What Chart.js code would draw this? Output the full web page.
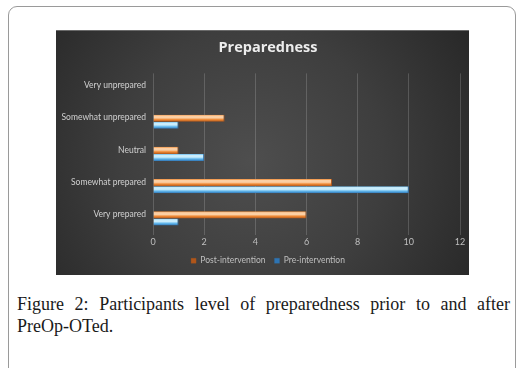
<!DOCTYPE html>
<html>
<head>
<meta charset="utf-8">
<script src="https://cdn.jsdelivr.net/npm/chart.js@4"></script>
<style>
  body { margin: 0; background: #fff; width: 530px; height: 368px; overflow: hidden; position: relative; }
  .frame { position: absolute; left: 8px; top: 6px; width: 508px; height: 372px; border: 1px solid #9a9a9a; border-radius: 9px; box-sizing: border-box; }
  .plot { position: absolute; left: 56px; top: 30px; width: 413px; height: 245px; border-top: 1px solid #6a6a6a; box-sizing: border-box; }
  .caption { position: absolute; left: 17px; top: 293px; width: 493px; font-family: "Liberation Serif", serif; font-size: 18px; line-height: 22px; text-align: justify; color: #1a1a1a; }
</style>
</head>
<body>
<div class="frame"></div>
<div class="plot"><canvas id="prep" width="413" height="244"></canvas></div>
<div class="caption">Figure 2: Participants level of preparedness prior to and after PreOp-OTed.</div>
<script>
const categories = ['Very unprepared', 'Somewhat unprepared', 'Neutral', 'Somewhat prepared', 'Very prepared'];
const postIntervention = [0, 2.8, 1, 7, 6];
const preIntervention = [0, 1, 2, 10, 1];
const xTicks = [0, 2, 4, 6, 8, 10, 12];

const orange = { light: '#fbcfa4', mid: '#f08a35', dark: '#b0561a' };
const blue = { light: '#c9edfc', mid: '#62b8ee', dark: '#2e74b3' };

// bevel-like vertical gradient for each bar, centred on the bar's own row
function barFill(shade, slot) {
    return function (context) {
        const chart = context.chart;
        const y = chart.scales.y;
        if (!chart.chartArea || !y || context.dataIndex === undefined) {
            return shade.mid;
        }
        const step = y.getPixelForValue(1) - y.getPixelForValue(0);
        const h = step * 0.22;
        const c = y.getPixelForValue(context.dataIndex) + (slot - 0.5) * h;
        const g = chart.ctx.createLinearGradient(0, c - h / 2, 0, c + h / 2);
        g.addColorStop(0, shade.mid);
        g.addColorStop(0.2, shade.light);
        g.addColorStop(0.45, shade.light);
        g.addColorStop(0.7, shade.mid);
        g.addColorStop(1, shade.dark);
        return g;
    };
}

const backdrop = {
    id: 'backdrop',
    beforeDraw(chart) {
        const ctx = chart.ctx;
        const g = ctx.createRadialGradient(195, 130, 0, 195, 130, 265);
        g.addColorStop(0, '#4e4e4e');
        g.addColorStop(0.5, '#3e3e3e');
        g.addColorStop(1, '#262626');
        ctx.save();
        ctx.fillStyle = g;
        ctx.fillRect(0, 0, chart.width, chart.height);
        ctx.restore();
    },
    // let the long category labels use the left padding instead of being clipped
    afterLayout(chart) {
        chart.scales.y.left = 0;
    }
};

Chart.defaults.font.family = 'Lato';

const ctx = document.getElementById('prep').getContext('2d');

new Chart(ctx, {
    type: 'bar',
    data: {
        labels: categories,
        datasets: [
            {
                label: 'Post-intervention',
                data: postIntervention,
                backgroundColor: barFill(orange, 0),
                borderColor: orange.dark,
                borderWidth: { right: 1 },
                borderSkipped: 'start',
                barPercentage: 1,
                categoryPercentage: 0.44
            },
            {
                label: 'Pre-intervention',
                data: preIntervention,
                backgroundColor: barFill(blue, 1),
                borderColor: blue.dark,
                borderWidth: { right: 1 },
                borderSkipped: 'start',
                barPercentage: 1,
                categoryPercentage: 0.44
            }
        ]
    },
    options: {
        indexAxis: 'y',
        responsive: false,
        animation: false,
        layout: { padding: { left: 20, right: 9, top: 0, bottom: 0 } },
        plugins: {
            title: {
                display: true,
                text: 'Preparedness',
                color: '#ededed',
                font: { size: 14.5, weight: 'bold', family: 'Open Sans' },
                padding: { top: 8, bottom: 17 }
            },
            legend: {
                position: 'bottom',
                labels: {
                    color: '#bfbfbf',
                    font: { size: 8.5 },
                    boxWidth: 5,
                    boxHeight: 5,
                    padding: 9
                }
            },
            tooltip: { enabled: false }
        },
        scales: {
            x: {
                min: 0,
                max: 12,
                afterBuildTicks(scale) {
                    scale.ticks = xTicks.map(v => ({ value: v }));
                },
                afterFit(scale) { scale.height = 13; },
                ticks: { color: '#bfbfbf', font: { size: 9 }, padding: 2 },
                grid: { color: 'rgba(255,255,255,0.17)', drawTicks: false },
                border: { display: false }
            },
            y: {
                afterFit(scale) { scale.width = 77; },
                ticks: { color: '#d0d0d0', font: { size: 8.5 }, padding: 7, labelOffset: -4 },
                grid: { display: false, drawTicks: false },
                border: { display: false }
            }
        }
    },
    plugins: [backdrop]
});
</script>
</body>
</html>
